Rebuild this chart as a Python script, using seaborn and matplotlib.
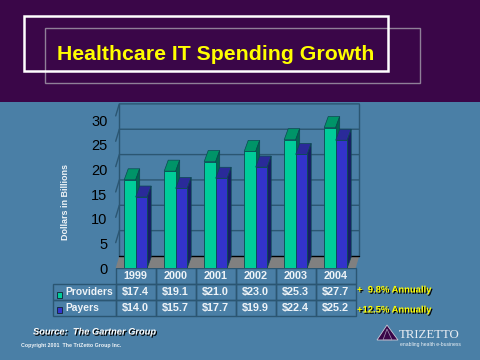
import pandas as pd
import matplotlib.pyplot as plt
import matplotlib.patheffects as pe
from matplotlib.patches import Polygon, Rectangle
from matplotlib.table import Table
import seaborn as sns

years = ['1999', '2000', '2001', '2002', '2003', '2004']
providers = [17.4, 19.1, 21.0, 23.0, 25.3, 27.7]
payers = [14.0, 15.7, 17.7, 19.9, 22.4, 25.2]
y_ticks = [0, 5, 10, 15, 20, 25, 30]
series_names = ['Providers', 'Payers']
growth_notes = ['+  9.8% Annually', '+12.5% Annually']

BG = '#4a7fa6'
BAND = '#3a0648'
GRID = '#2b5672'
YELLOW = '#ffff00'
TEXT = '#eef3f7'
FACES = {'Providers': ('#00cc99', '#009468', '#00664f'),
         'Payers': ('#3333cc', '#2a2a99', '#1a1a66')}

sns.set_theme(style='white')
plt.rcParams['font.family'] = ['Liberation Sans', 'DejaVu Sans']


def fx(px):
    return px / 480


def fy(py):
    return 1 - py / 360


def fig_rect(fig, x0, y0, x1, y1, **kw):
    fig.add_artist(Rectangle((fx(x0), fy(y1)), fx(x1) - fx(x0), fy(y0) - fy(y1),
                             transform=fig.transFigure, **kw))


def shadow_text(fig, x, y, s, color, **kw):
    fig.text(fx(x), fy(y), s, color=color, va='center', fontweight='bold',
             path_effects=[pe.withSimplePatchShadow(offset=(0.9, -0.9), shadow_rgbFace='black', alpha=1)],
             **kw)


df = pd.DataFrame({'year': years * 2,
                   'series': ['Providers'] * 6 + ['Payers'] * 6,
                   'spend': providers + payers})

fig = plt.figure(figsize=(4.8, 3.6), dpi=100, facecolor=BG)

# title band and the two frames
fig_rect(fig, 0, 0, 480, 102, facecolor=BAND, edgecolor='none')
fig_rect(fig, 44.5, 28.5, 420, 83, facecolor='none', edgecolor='#8f7f98', lw=1)
fig_rect(fig, 24, 16, 388, 71, facecolor='none', edgecolor='white', lw=1.8)
fig.text(fx(216), fy(55), 'Healthcare IT Spending Growth', color=YELLOW,
         fontsize=15.3, fontweight='bold', ha='center', va='center')

ax = fig.add_axes([fx(115.7), fy(268), 240 / 480, (268 - 115.9) / 360])
ax.patch.set_alpha(0)

sns.barplot(data=df, x='year', y='spend', hue='series', hue_order=series_names,
            palette={k: v[0] for k, v in FACES.items()}, width=0.575, gap=0,
            saturation=1, legend=False, edgecolor='#0b4a50', linewidth=0.6, ax=ax, zorder=4)

ax.set_xlim(-0.5, 5.5)
ax.set_ylim(0, 30)

# box depth, in data units
wall_dx, wall_dy = 0.09, 2.37
bar_dx, bar_dy = 0.1, 2.17

# floor, back wall and gridlines
ax.add_patch(Polygon([(-0.5, 0), (-0.5 + wall_dx, wall_dy), (5.5 + wall_dx, wall_dy), (5.5, 0)],
                     closed=True, facecolor='#808080', edgecolor='none', clip_on=False, zorder=1))
ax.plot([-0.5 + wall_dx, 5.5 + wall_dx], [wall_dy, wall_dy], color='black', lw=1, zorder=1.5, clip_on=False)
ax.plot([5.5 + wall_dx] * 2, [wall_dy, 30 + wall_dy], color=GRID, lw=1, zorder=1, clip_on=False)
ax.plot([-0.5 + wall_dx] * 2, [wall_dy, 30 + wall_dy], color=GRID, lw=1, zorder=1, clip_on=False)
for v in y_ticks[1:]:
    ax.plot([-0.5, -0.5 + wall_dx, 5.5 + wall_dx], [v, v + wall_dy, v + wall_dy],
            color=GRID, lw=1, zorder=1, clip_on=False)

# fake 3d: top and side faces on the bars seaborn drew
for i, (name, cont) in enumerate(zip(series_names, ax.containers)):
    front, top, side = FACES[name]
    for b in cont:
        x0, x1, h = b.get_x(), b.get_x() + b.get_width(), b.get_height()
        b.set_zorder(4 + 2 * i)
        ax.add_patch(Polygon([(x0, h), (x0 + bar_dx, h + bar_dy), (x1 + bar_dx, h + bar_dy), (x1, h)],
                             closed=True, facecolor=top, edgecolor='#0b4a50', lw=0.5,
                             zorder=3 + 2 * i, clip_on=False))
        ax.add_patch(Polygon([(x1, 0), (x1 + bar_dx, bar_dy), (x1 + bar_dx, h + bar_dy), (x1, h)],
                             closed=True, facecolor=side, edgecolor='#0b4a50', lw=0.5,
                             zorder=3 + 2 * i, clip_on=False))

sns.despine(ax=ax, left=True, bottom=True)
ax.set_xlabel('')
ax.set_ylabel('')
ax.set_yticks([])
ax.tick_params(axis='x', length=0, labelbottom=False)

# the labels sit a bit tighter than the front ticks
label_scale = 5.07 / 4.93
sec = ax.secondary_yaxis('left', functions=(lambda v: v * label_scale, lambda v: v / label_scale))
sec.set_yticks(y_ticks)
sec.set_yticklabels([str(v) for v in y_ticks], fontsize=10.5, color='black')
sec.tick_params(axis='y', length=0, pad=6)
sec.spines['left'].set_visible(False)

fig.text(fx(65), fy(202), 'Dollars in Billions', color=TEXT, fontsize=6.5, fontweight='bold',
         rotation=90, ha='center', va='center')

# data table under the floor, built by hand so the label column can be sized
table = Table(ax, bbox=[(53 - 115.7) / 240, -48 / 152.1, 302.7 / 240, 48 / 152.1])
col_w, label_w, row_h = 40, 62.7, 16
for c, year in enumerate(years, start=1):
    table.add_cell(0, c, col_w, row_h, text=year, loc='center')
for r, (name, vals) in enumerate(zip(series_names, [providers, payers]), start=1):
    table.add_cell(r, 0, label_w, row_h, text=name, loc='left')
    for c, v in enumerate(vals, start=1):
        table.add_cell(r, c, col_w, row_h, text=f'${v:.1f}', loc='center')
table.auto_set_font_size(False)
table.set_fontsize(7.8)
for (r, c), cell in table.get_celld().items():
    cell.set_facecolor('none')
    cell.set_edgecolor(GRID)
    cell.set_linewidth(1)
    cell.get_text().set_color(TEXT)
    cell.get_text().set_fontweight('bold')
    if c == 0:
        cell.PAD = 0.19
        cell.get_text().set_fontsize(7.4)
ax.add_table(table)

fig_rect(fig, 57, 292, 62, 298, facecolor=FACES['Providers'][0], edgecolor='#123', lw=0.6)
fig_rect(fig, 57, 307, 62, 313, facecolor=FACES['Payers'][0], edgecolor='#123', lw=0.6)

shadow_text(fig, 357, 290, growth_notes[0], YELLOW, fontsize=6.8)
shadow_text(fig, 357, 310, growth_notes[1], YELLOW, fontsize=6.8)
shadow_text(fig, 33, 332, 'Source:  The Gartner Group', 'white', fontsize=6.7, fontstyle='italic')
fig.text(fx(21), fy(346), 'Copyright 2001  The TriZetto Group Inc.', color=TEXT,
         fontsize=3.8, fontweight='bold', va='center')

# logo
fig.add_artist(Polygon([(fx(387), fy(325)), (fx(377), fy(340)), (fx(398), fy(340))], closed=True,
                       transform=fig.transFigure, facecolor=BAND, edgecolor='#c9c9d6', lw=0.6))
fig.add_artist(Polygon([(fx(387), fy(329)), (fx(383), fy(340)), (fx(392), fy(340))], closed=True,
                       transform=fig.transFigure, facecolor='none', edgecolor='#a59ab5', lw=0.5))
fig.text(fx(399), fy(335), 'TRIZETTO', color='#e6ecf2', fontsize=9.3, family='Liberation Serif', va='center')
fig.text(fx(400), fy(344.5), 'enabling health e-business', color=TEXT, fontsize=3.6, va='center')

fig.savefig('out.png', dpi=100, facecolor=fig.get_facecolor())
